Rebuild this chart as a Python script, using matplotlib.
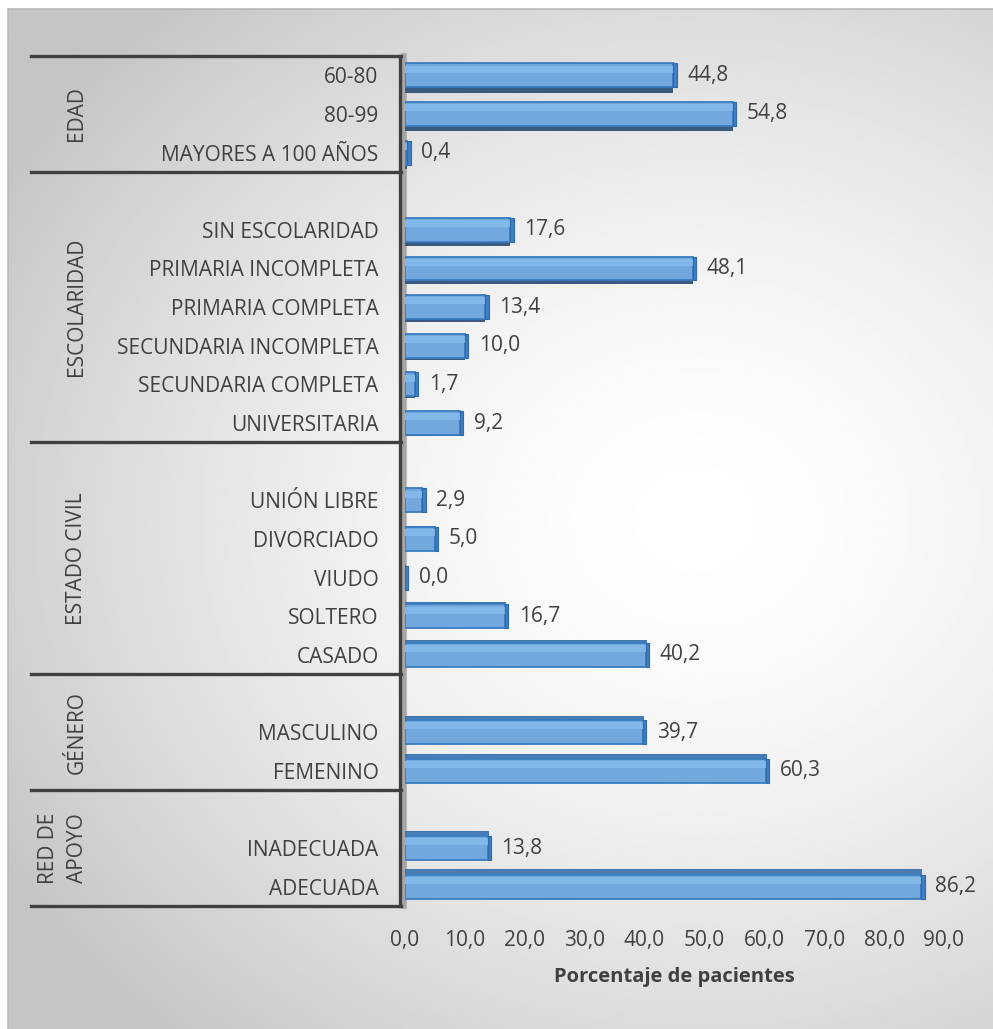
import numpy as np
import matplotlib
matplotlib.use('Agg')
import matplotlib.pyplot as plt
from matplotlib.transforms import blended_transform_factory
from matplotlib.lines import Line2D

plt.rcParams['font.family'] = ['Open Sans', 'DejaVu Sans']

# Datos por grupo (porcentaje de pacientes)
edad_labels = ['60-80', '80-99', 'MAYORES A 100 AÑOS']
edad_values = [44.8, 54.8, 0.4]

escolaridad_labels = ['SIN ESCOLARIDAD', 'PRIMARIA INCOMPLETA', 'PRIMARIA COMPLETA',
                      'SECUNDARIA INCOMPLETA', 'SECUNDARIA COMPLETA', 'UNIVERSITARIA']
escolaridad_values = [17.6, 48.1, 13.4, 10.0, 1.7, 9.2]

civil_labels = ['UNIÓN LIBRE', 'DIVORCIADO', 'VIUDO', 'SOLTERO', 'CASADO']
civil_values = [2.9, 5.0, 0.0, 16.7, 40.2]

genero_labels = ['MASCULINO', 'FEMENINO']
genero_values = [39.7, 60.3]

apoyo_labels = ['INADECUADA', 'ADECUADA']
apoyo_values = [13.8, 86.2]

group_names = ['EDAD', 'ESCOLARIDAD', 'ESTADO CIVIL', 'GÉNERO', 'RED DE\nAPOYO']
x_ticks = [0, 10, 20, 30, 40, 50, 60, 70, 80, 90]

groups = [(edad_labels, edad_values), (escolaridad_labels, escolaridad_values),
          (civil_labels, civil_values), (genero_labels, genero_values),
          (apoyo_labels, apoyo_values)]

# posiciones: cada grupo (salvo el primero) empieza con una fila vacía
ypos, labels, values, bounds, centers = [], [], [], [-0.5], []
pos = 0
for gi, (labs, vals) in enumerate(groups):
    start = pos
    if gi > 0:
        pos += 1
    for lab, val in zip(labs, vals):
        ypos.append(pos)
        labels.append(lab)
        values.append(val)
        pos += 1
    bounds.append(pos - 0.5)
    centers.append((start + pos - 1) / 2)
n_slots = pos

W, H = 993, 1029
fig = plt.figure(figsize=(W / 100, H / 100), dpi=100)
fig.patch.set_facecolor('white')

# fondo con degradado radial
bg = fig.add_axes([8 / W, 0, 985 / W, 1020 / H])
gx, gy = np.meshgrid(np.linspace(0, 1, 400), np.linspace(0, 1, 400))
r = np.sqrt(((gx - 0.70) / 0.82) ** 2 + ((gy - 0.50) / 0.68) ** 2)
shade = 1 - 0.23 * np.clip(r, 0, 1) ** 1.6
bg.imshow(shade, cmap='gray', vmin=0, vmax=1, extent=[0, 1, 0, 1], aspect='auto', origin='upper')
bg.set_xlim(0, 1)
bg.set_ylim(0, 1)
bg.axis('off')
fig.add_artist(Line2D([8 / W, 1], [1 - 9 / H] * 2, color='#b8b8b8', lw=1.2))
fig.add_artist(Line2D([8 / W] * 2, [0, 1 - 9 / H], color='#b8b8b8', lw=1.2))

ax = fig.add_axes([405 / W, 1 - 906 / H, 539 / W, 850 / H])
ax.patch.set_alpha(0)
ax.set_xlim(0, 90)
ax.set_ylim(n_slots - 0.5, -0.5)
for s in ax.spines.values():
    s.set_visible(False)

text_color = '#404040'
fs = 15
face_h = 0.62
mid = (n_slots - 1) / 2
for y, v in zip(ypos, values):
    # cara lateral en perspectiva (inferior arriba, superior abajo)
    depth = 0.015 * (y - mid)
    if depth < 0:
        ax.barh(y + face_h / 2 - depth / 2, v, height=-depth, left=0,
                color='#3a5a80', edgecolor='none', zorder=2)
    elif depth > 0:
        ax.barh(y - face_h / 2 - depth / 2, v, height=depth, left=0,
                color='#4a7db6', edgecolor='#2f6aa8', lw=0.6, zorder=2)
    ax.barh(y, v, height=face_h, color='#72a8de', edgecolor='#3a7cc2', lw=1.3, zorder=3)
    ax.barh(y - face_h / 2 + 0.15, v, height=0.18, color='#82b7ea', edgecolor='none', zorder=4)
    ax.barh(y, 0.55, height=face_h, left=v, color='#3f7fc4', edgecolor='#2f6aa8', lw=0.8, zorder=4)
    ax.annotate(f'{v:.1f}'.replace('.', ','), (v, y), xytext=(10, 0), textcoords='offset points',
                ha='left', va='center', fontsize=fs, color=text_color, zorder=5)

ax.set_yticks(ypos)
ax.set_yticklabels(labels, fontsize=fs, color=text_color)
ax.set_xticks(x_ticks)
ax.set_xticklabels([f'{t:.1f}'.replace('.', ',') for t in x_ticks], fontsize=fs, color=text_color)
ax.tick_params(axis='both', length=0)
ax.tick_params(axis='y', pad=19)
ax.tick_params(axis='x', pad=17)
ax.set_xlabel('Porcentaje de pacientes', fontsize=14.5, fontweight='bold', color=text_color, labelpad=12)

# separadores de grupo, eje vertical y pared gris
tr = blended_transform_factory(fig.transFigure, ax.transData)
for b in bounds:
    ax.add_line(Line2D([31 / W, 401 / W], [b, b], transform=tr, color='#404040', lw=2.4,
                       clip_on=False, zorder=6))
ax.add_line(Line2D([403.5 / W] * 2, [-0.5, n_slots - 0.5], transform=tr, color='#a6a6a6', lw=4,
                   clip_on=False, zorder=1))
ax.add_line(Line2D([400 / W] * 2, [-0.5, n_slots - 0.5], transform=tr, color='#404040', lw=2.4,
                   clip_on=False, zorder=6))

for name, c in zip(group_names, centers):
    xg = 63 if '\n' in name else 77
    ax.text(xg / W, c, name, transform=tr, rotation=90, ha='center', va='center',
            fontsize=fs, color=text_color, linespacing=1.45)

fig.savefig('out.png', dpi=100)
